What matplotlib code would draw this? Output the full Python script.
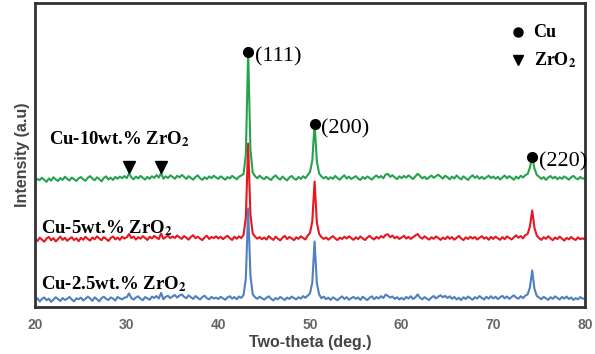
import numpy as np
import matplotlib
matplotlib.use("Agg")
import matplotlib.pyplot as plt

# XRD patterns of Cu-ZrO2 composites (intensity, a.u.)

two_theta = np.arange(20, 80.01, 0.25)

cu25 = [
    78, 102, 70, 95, 110, 82, 98, 66, 88, 112, 94, 74, 104, 85, 96, 115, 89, 72, 101, 92,
    108, 80, 97, 118, 100, 76, 111, 93, 71, 103, 117, 95, 84, 110, 99, 79, 114, 102, 90, 108,
    112, 150, 104, 88, 109, 121, 97, 82, 113, 101, 86, 118, 105, 124, 99, 155, 92, 116, 126, 103,
    120, 134, 108, 128, 140, 117, 102, 131, 112, 95, 124, 106, 90, 113, 127, 101, 91, 115, 99, 108,
    94, 116, 102, 87, 110, 122, 98, 114, 92, 119, 105, 135, 300, 1000, 330, 140, 112, 96, 118, 101,
    88, 107, 121, 96, 80, 104, 91, 115, 100, 84, 109, 95, 119, 103, 90, 112, 98, 123, 106, 128,
    150, 260, 670, 250, 140, 102, 118, 93, 107, 85, 111, 97, 82, 104, 120, 94, 113, 87, 101, 116,
    96, 110, 85, 117, 100, 83, 106, 121, 92, 114, 98, 123, 104, 138, 125, 108, 119, 95, 112, 90,
    106, 88, 115, 99, 122, 94, 110, 140, 107, 91, 113, 97, 84, 109, 124, 100, 118, 132, 111, 126,
    104, 121, 96, 115, 89, 107, 83, 112, 94, 119, 102, 87, 113, 98, 124, 105, 90, 116, 97, 122,
    99, 117, 93, 111, 126, 101, 120, 95, 114, 131, 108, 97, 122, 103, 128, 140, 210, 380, 195, 125,
    108, 92, 116, 101, 86, 112, 96, 121, 104, 89, 115, 98, 119, 94, 110, 85, 103, 91, 114, 97,
    100,
]

cu5 = [
    96, 74, 108, 88, 68, 100, 115, 82, 104, 71, 93, 119, 86, 107, 77, 97, 113, 84, 102, 73,
    106, 87, 117, 95, 79, 110, 92, 121, 101, 83, 114, 96, 75, 105, 120, 91, 109, 86, 118, 99,
    111, 145, 104, 119, 89, 113, 98, 123, 106, 85, 117, 101, 126, 108, 94, 150, 97, 114, 128, 103,
    121, 105, 130, 112, 96, 124, 108, 88, 116, 133, 102, 119, 99, 84, 111, 127, 95, 115, 104, 122,
    100, 117, 93, 112, 127, 103, 85, 118, 97, 121, 104, 135, 310, 1050, 340, 150, 119, 98, 114, 92,
    110, 89, 124, 102, 86, 117, 98, 81, 108, 126, 94, 115, 101, 83, 112, 96, 122, 105, 90, 130,
    155, 270, 670, 260, 145, 114, 96, 110, 88, 107, 123, 100, 84, 109, 95, 118, 99, 121, 103, 86,
    112, 94, 120, 101, 85, 109, 126, 104, 90, 117, 99, 124, 108, 136, 142, 113, 129, 102, 118, 95,
    110, 127, 99, 116, 96, 113, 130, 145, 114, 98, 122, 104, 89, 112, 97, 120, 105, 86, 109, 93,
    119, 97, 114, 88, 106, 125, 100, 84, 111, 95, 118, 99, 115, 90, 107, 123, 98, 112, 87, 116,
    96, 118, 101, 87, 114, 93, 121, 105, 90, 112, 131, 107, 124, 102, 133, 145, 220, 380, 205, 130,
    104, 86, 113, 97, 122, 101, 83, 110, 94, 119, 98, 79, 107, 91, 115, 96, 85, 111, 93, 102,
    90,
]

cu10 = [
    72, 96, 84, 108, 88, 67, 101, 79, 113, 92, 75, 105, 86, 118, 97, 80, 110, 93, 76, 102,
    115, 91, 78, 108, 124, 99, 83, 112, 95, 72, 106, 121, 90, 109, 86, 116, 98, 119, 103, 125,
    104, 150, 112, 92, 119, 101, 126, 108, 90, 116, 97, 123, 106, 134, 110, 155, 99, 122, 105, 131,
    117, 98, 127, 111, 135, 118, 96, 124, 107, 89, 115, 132, 103, 87, 113, 95, 121, 104, 128, 110,
    97, 122, 106, 88, 115, 100, 127, 109, 92, 118, 130, 145, 340, 1370, 390, 160, 124, 102, 128, 107,
    93, 118, 101, 85, 114, 131, 105, 89, 120, 98, 82, 111, 126, 100, 88, 116, 96, 123, 104, 135,
    165, 280, 650, 270, 150, 121, 101, 118, 92, 113, 97, 126, 105, 88, 114, 132, 99, 119, 95, 110,
    124, 100, 86, 115, 97, 120, 106, 89, 114, 131, 108, 125, 102, 140, 146, 117, 133, 111, 94, 122,
    104, 126, 109, 132, 113, 95, 121, 148, 127, 101, 118, 94, 112, 130, 107, 124, 138, 119, 99, 128,
    113, 92, 119, 100, 131, 108, 91, 122, 103, 86, 114, 133, 106, 125, 97, 118, 95, 112, 129, 104,
    120, 98, 117, 90, 111, 130, 102, 124, 107, 88, 119, 99, 128, 110, 134, 145, 210, 320, 200, 136,
    118, 96, 114, 87, 109, 125, 101, 119, 93, 113, 97, 121, 105, 89, 112, 127, 103, 92, 116, 98,
    106,
]

cu_peaks = [43.25, 50.5, 74.25]
cu_planes = ["(111)", "(200)", "(220)"]
zro2_peaks = [30.3, 33.7]

offsets = [0, 600, 1200]
colors = ["#4f80c0", "#e8161e", "#25a34c"]
labels = [r"Cu-2.5wt.% ZrO$_\mathbf{2}$", r"Cu-5wt.% ZrO$_\mathbf{2}$", r"Cu-10wt.% ZrO$_\mathbf{2}$"]
label_pos = [(20.65, 240), (20.65, 800), (21.5, 1690)]

plt.rcParams["mathtext.fontset"] = "stix"

fig = plt.figure(figsize=(5.95, 3.54), dpi=100)
ax = fig.add_axes([0.059, 0.133, 0.924, 0.858])

for y, off, c in zip([cu25, cu5, cu10], offsets, colors):
    ax.plot(two_theta, np.array(y) + off, color=c, linewidth=1.5)

serif = ["Liberation Serif", "DejaVu Serif"]
for lab, (lx, ly) in zip(labels, label_pos):
    ax.text(lx, ly, lab, fontsize=13.5, fontweight="bold", family=serif, va="center")

# Cu peak markers on the top pattern
top = np.array(cu10) + offsets[2]
for pk, plane in zip(cu_peaks, cu_planes):
    i = int(round((pk - 20) / 0.25))
    ax.plot(pk, top[i], "o", color="black", markersize=7, zorder=5)
    ax.text(pk + 0.75, top[i] - 50, plane, fontsize=16, family=serif, va="center")

ax.plot(zro2_peaks, [1420, 1420], "v", color="black", markersize=8, zorder=5)

# marker key
ax.plot(72.7, 2765, "o", color="black", markersize=6.5)
ax.plot(72.7, 2485, "v", color="black", markersize=7.5)
ax.text(74.4, 2765, "Cu", fontsize=13, fontweight="bold", family=serif, va="center")
ax.text(74.4, 2485, r"ZrO$_\mathbf{2}$", fontsize=13, fontweight="bold", family=serif, va="center")

ax.set_xlim(20, 80)
ax.set_ylim(15, 3055)
ax.set_yticks([])
ax.set_xticks(range(20, 81, 10))
ax.tick_params(axis="x", length=0, pad=8, labelsize=10, labelcolor="#666666")
for t in ax.get_xticklabels():
    t.set_fontweight("bold")
    t.set_family("Liberation Sans")
for s in ax.spines.values():
    s.set_color("#333333")
    s.set_linewidth(2)

ax.set_xlabel("Two-theta (deg.)", fontsize=11.5, fontweight="bold", color="#444444",
              family="Liberation Sans", labelpad=2)
ax.set_ylabel("Intensity (a.u)", fontsize=11.5, fontweight="bold", color="#444444",
              family="Liberation Sans", labelpad=4)

fig.savefig("out.png", dpi=100)
